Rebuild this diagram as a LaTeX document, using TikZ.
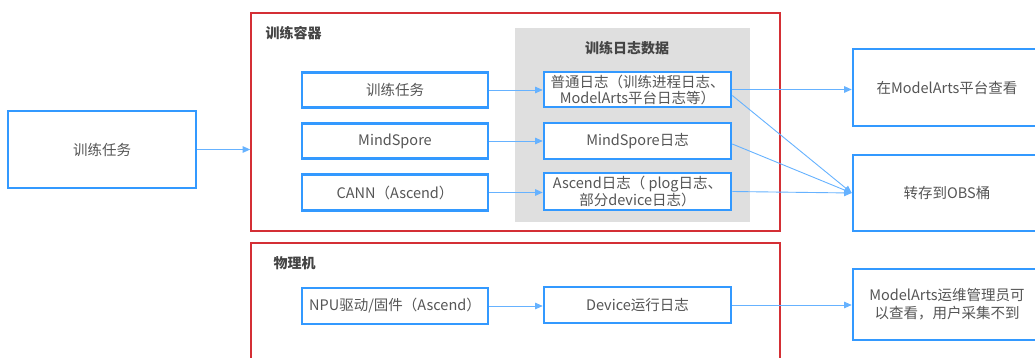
\documentclass[tikz,border=0pt]{standalone}
\usepackage{fontspec}
\setmainfont{Noto Sans CJK SC}
\usepackage{tikz}
\usetikzlibrary{arrows.meta}
\usepackage{xcolor}
\definecolor{boxblue}{HTML}{3399FF}
\definecolor{lineblue}{HTML}{66B2FF}
\definecolor{frame}{HTML}{D42F35}
\definecolor{panel}{HTML}{DFDFDF}
\definecolor{ink}{HTML}{555555}

\tikzset{
  taskbox/.style={draw=boxblue, line width=2.6pt, fill=white, inner sep=0pt,
    align=center, text=ink, font=\fontsize{14.5}{16}\selectfont},
  groupbox/.style={draw=frame, line width=1.6pt, inner sep=0pt},
  grouplabel/.style={anchor=west, text=ink!80!black, font=\fontsize{14}{16}\selectfont\bfseries},
  flow/.style={draw=lineblue, line width=0.9pt, -{Triangle[length=7.5pt,width=6.5pt]}},
}

\begin{document}
\begin{tikzpicture}[x=1pt, y=-1pt]
\useasboundingbox (0,0) rectangle (1035,358);

% containers
\node[groupbox, minimum width=529pt, minimum height=218pt] (container) at (515.5,122) {};
\node[groupbox, minimum width=529pt, minimum height=130pt] (host) at (515.5,308) {};
\node[fill=panel, minimum width=235pt, minimum height=194pt, inner sep=0pt] (logpanel) at (632.5,125) {};
\node[grouplabel] (containerlabel) at (262,33) {训练容器};
\node[grouplabel] (hostlabel) at (270,263) {物理机};
\node[font=\fontsize{14}{16}\selectfont\bfseries, text=ink!80!black] (paneltitle) at (627,48) {训练日志数据};

% job
\node[taskbox, minimum width=188pt, minimum height=77pt] (job) at (102,149.5) {训练任务};

% sources
\node[taskbox, minimum width=186pt, minimum height=35pt] (train) at (395,90) {训练任务};
\node[taskbox, minimum width=186pt, minimum height=35pt] (ms) at (395,141) {MindSpore};
\node[taskbox, minimum width=186pt, minimum height=36pt] (cann) at (395,192.5) {CANN（Ascend）};
\node[taskbox, minimum width=186pt, minimum height=36pt] (npu) at (395,306) {NPU驱动/固件（Ascend）};

% logs
\node[taskbox, minimum width=187pt, minimum height=35pt] (plain) at (637.5,89.5) {普通日志（训练进程日志、\\ModelArts平台日志等）};
\node[taskbox, minimum width=187pt, minimum height=36pt] (mslog) at (637.5,141) {MindSpore日志};
\node[taskbox, minimum width=187pt, minimum height=37pt] (ascendlog) at (637.5,191.5) {Ascend日志（ plog日志、\\部分device日志）};
\node[taskbox, minimum width=187pt, minimum height=36pt] (devlog) at (637.5,305) {Device运行日志};

% targets
\node[taskbox, minimum width=188pt, minimum height=77pt] (view) at (947,87.5) {在ModelArts平台查看};
\node[taskbox, minimum width=188pt, minimum height=76pt] (obs) at (947,193) {转存到OBS桶};
\node[taskbox, minimum width=188pt, minimum height=71pt, font=\fontsize{14.5}{18}\selectfont] (admin) at (947,304.5) {ModelArts运维管理员可\\以查看，用户采集不到};

% arrows
\draw[flow] (job.east) -- (container.west |- job.east);
\draw[flow] (train) -- (plain.west |- train);
\draw[flow] (ms) -- (mslog);
\draw[flow] (cann) -- (ascendlog.west |- cann);
\draw[flow] (npu) -- (devlog.west |- npu);
\draw[flow] (plain.east) -- (view.west |- plain.east);
\draw[flow] ([yshift=-6pt]plain.east) -- (obs.west);
\draw[flow] ([yshift=-3pt]mslog.east) -- (obs.west);
\draw[flow] (ascendlog.east) -- (obs.west);
\draw[flow] (devlog) -- (admin.west |- devlog);
\end{tikzpicture}
\end{document}
